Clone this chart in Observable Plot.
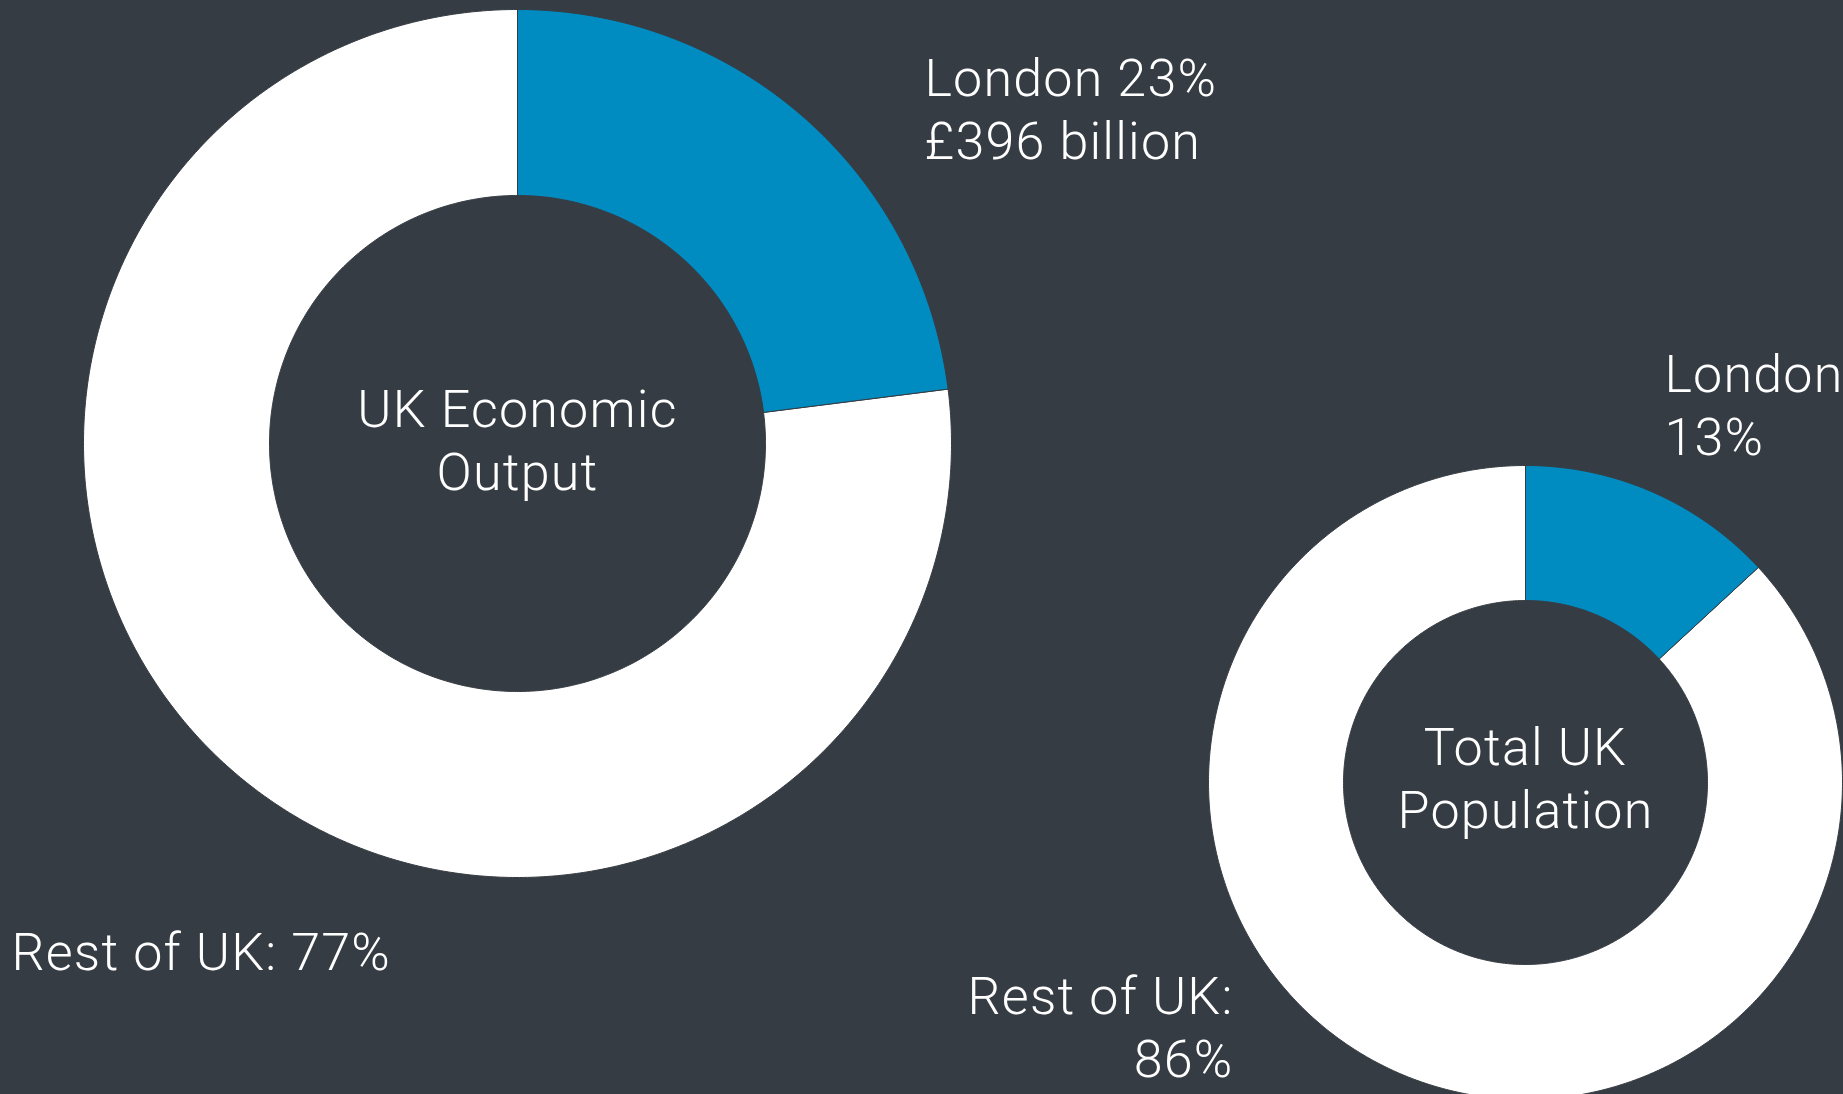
<!DOCTYPE html>
<html>
<head>
<meta charset="utf-8">
<script src="https://cdn.jsdelivr.net/npm/d3@7"></script>
<script src="https://cdn.jsdelivr.net/npm/@observablehq/plot@0.6"></script>
<style>
  html, body { margin: 0; padding: 0; background: #363c43; overflow: hidden; }
</style>
</head>
<body>
<div id="chart"></div>
<script>
// ---- data ----
const charts = ["UK Economic Output", "Total UK Population"];
const centerTitles = ["UK Economic\nOutput", "Total UK\nPopulation"];
const londonShare = [23, 13];
const restShare = [77, 86];
const londonLabels = ["London 23%\n£396 billion", "London\n13%"];
const restLabels = ["Rest of UK: 77%", "Rest of UK:\n86%"];
const sliceNames = ["London", "Rest of UK"];

// ---- layout (not data) ----
const W = 1843, H = 1094;
const BG = "#363c43", BLUE = "#008bc1", WHITE = "#ffffff";
const FONT = "Roboto, 'Helvetica Neue', Helvetica, Arial, sans-serif";
const layout = [
  {cx: 517, cy: 443, rOuter: 434, rInner: 248},
  {cx: 1525, cy: 782, rOuter: 317, rInner: 182}
];

// build arc polygons from the shares
const pts = [];
charts.forEach((c, i) => {
  const total = londonShare[i] + restShare[i];
  const shares = [londonShare[i], restShare[i]];
  let start = 0;
  shares.forEach((v, j) => {
    const a0 = start / total * 2 * Math.PI;
    const a1 = (start + v) / total * 2 * Math.PI;
    start += v;
    const {cx, cy, rOuter, rInner} = layout[i];
    const n = Math.max(8, Math.ceil((a1 - a0) / (Math.PI / 360)));
    const id = c + "|" + sliceNames[j];
    const ring = [];
    for (let k = 0; k <= n; k++) {
      const a = a0 + (a1 - a0) * k / n;
      ring.push({x: cx + rOuter * Math.sin(a), y: cy - rOuter * Math.cos(a)});
    }
    for (let k = n; k >= 0; k--) {
      const a = a0 + (a1 - a0) * k / n;
      ring.push({x: cx + rInner * Math.sin(a), y: cy - rInner * Math.cos(a)});
    }
    ring.push(ring[0]);
    ring.forEach(p => pts.push({...p, id, slice: sliceNames[j]}));
  });
});

const textStyle = {fill: WHITE, fontSize: 52, fontWeight: 300, fontFamily: FONT, lineHeight: 1.21, lineAnchor: "top"};

const labels = [
  {x: 924, y: 51, text: londonLabels[0], anchor: "start"},
  {x: 1664, y: 347, text: londonLabels[1], anchor: "start"},
  {x: 11, y: 925, text: restLabels[0], anchor: "start"},
  {x: 1233, y: 969, text: restLabels[1], anchor: "end"},
  {x: layout[0].cx, y: 382, text: centerTitles[0], anchor: "middle"},
  {x: layout[1].cx, y: 720, text: centerTitles[1], anchor: "middle"}
];

const plot = Plot.plot({
  width: W,
  height: H,
  margin: 0,
  x: {domain: [0, W], range: [0, W], axis: null},
  y: {domain: [0, H], range: [0, H], axis: null},
  style: {background: BG, color: WHITE, overflow: "hidden", letterSpacing: "1.2px"},
  marks: [
    Plot.line(pts.filter(d => d.slice === "Rest of UK"), {x: "x", y: "y", z: "id", fill: WHITE, stroke: BG, strokeWidth: 1, curve: "linear"}),
    Plot.line(pts.filter(d => d.slice === "London"), {x: "x", y: "y", z: "id", fill: BLUE, stroke: BG, strokeWidth: 1, curve: "linear"}),
    ...labels.map(l => Plot.text([l], {x: "x", y: "y", text: "text", textAnchor: l.anchor, ...textStyle}))
  ]
});
document.getElementById("chart").appendChild(plot);
</script>
</body>
</html>
